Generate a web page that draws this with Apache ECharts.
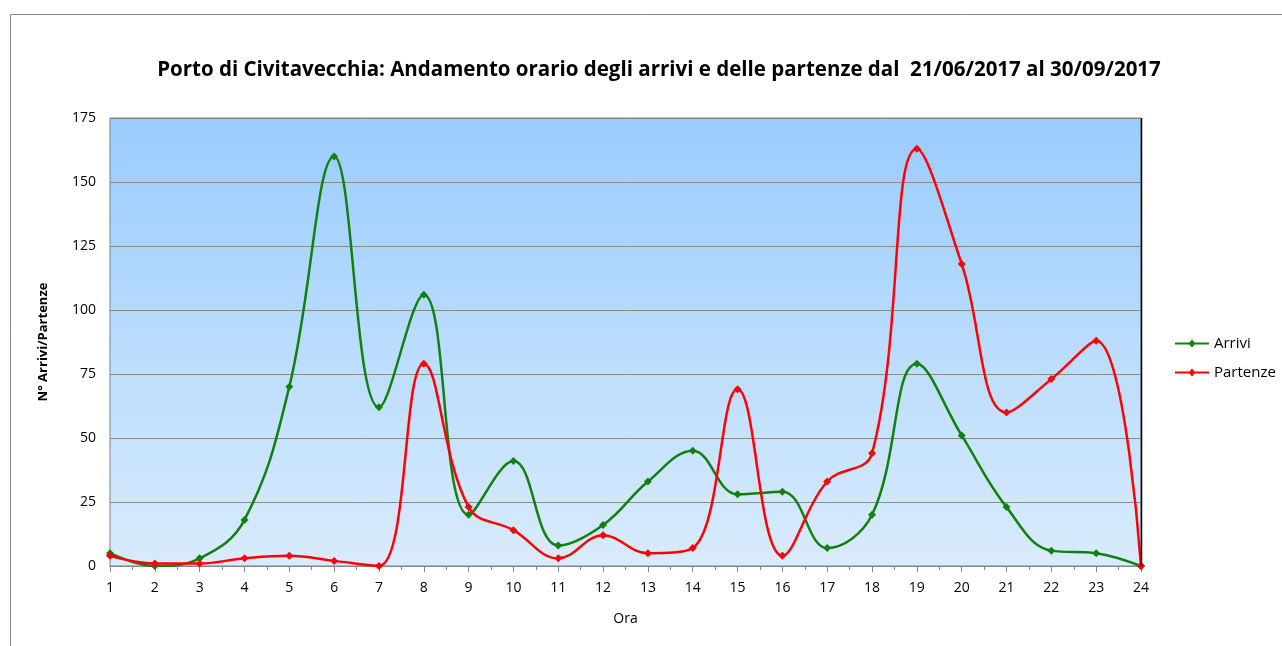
<!DOCTYPE html>
<html>
<head>
<meta charset="utf-8">
<script src="https://cdn.jsdelivr.net/npm/echarts@6/dist/echarts.min.js"></script>
<style>
  html, body { margin: 0; padding: 0; background: #fff; }
  #chart { width: 1282px; height: 646px; }
</style>
</head>
<body>
<div id="chart"></div>
<script>
// ore del giorno (asse x)
const ore = [1, 2, 3, 4, 5, 6, 7, 8, 9, 10, 11, 12, 13, 14, 15, 16, 17, 18, 19, 20, 21, 22, 23, 24];
// valori
const arrivi = [5, 0, 3, 18, 70, 160, 62, 106, 20, 41, 8, 16, 33, 45, 28, 29, 7, 20, 79, 51, 23, 6, 5, 0];
const partenze = [4, 1, 1, 3, 4, 2, 0, 79, 23, 14, 3, 12, 5, 7, 69, 4, 33, 44, 163, 118, 60, 73, 88, 0];
const yTicks = [0, 25, 50, 75, 100, 125, 150, 175];

const font = 'Open Sans';
const chart = echarts.init(document.getElementById('chart'));

// icona legenda: linea con rombo
const iconaLegenda = 'path://M0,4 L34,4 L34,6 L0,6 Z M17,1 L20.5,5 L17,9 L13.5,5 Z';

function serie(name, values, color) {
  return {
    name: name,
    type: 'line',
    data: ore.map((h, i) => [h, values[i]]),
    smooth: 0.4,
    symbol: 'diamond',
    symbolSize: 8,
    lineStyle: { color: color, width: 2.5 },
    itemStyle: { color: color },
    clip: true
  };
}

chart.setOption({
  animation: false,
  title: {
    text: 'Porto di Civitavecchia: Andamento orario degli arrivi e delle partenze dal  21/06/2017 al 30/09/2017',
    left: 654,
    textAlign: 'center',
    top: 55,
    textStyle: { fontFamily: font, fontWeight: 'bold', fontSize: 20.5, color: '#000' }
  },
  graphic: [{
    type: 'rect',
    shape: { x: 10.5, y: 14.5, width: 1300, height: 700 },
    style: { fill: 'none', stroke: '#888', lineWidth: 1 },
    silent: true
  }, {
    type: 'line',
    shape: { x1: 1141.5, y1: 118, x2: 1141.5, y2: 566 },
    style: { stroke: '#000', lineWidth: 1.5 },
    silent: true,
    z: 10
  }],
  legend: {
    orient: 'vertical',
    left: 1170,
    top: 331,
    itemGap: 14,
    itemWidth: 34,
    itemHeight: 10,
    textStyle: { fontFamily: font, fontSize: 15, color: '#000' },
    data: [
      { name: 'Arrivi', icon: iconaLegenda },
      { name: 'Partenze', icon: iconaLegenda }
    ]
  },
  grid: {
    left: 110, right: 141, top: 118, bottom: 80,
    show: true,
    borderColor: '#808080',
    borderWidth: 1,
    backgroundColor: {
      type: 'linear', x: 0, y: 0, x2: 0, y2: 1,
      colorStops: [
        { offset: 0, color: '#99ccff' },
        { offset: 1, color: '#d9ebfc' }
      ]
    }
  },
  xAxis: {
    type: 'value',
    min: ore[0],
    max: ore[ore.length - 1],
    interval: 1,
    name: 'Ora',
    nameLocation: 'middle',
    nameGap: 46,
    nameTextStyle: { fontFamily: font, fontSize: 14, color: '#000' },
    axisLine: { show: true, onZero: false, lineStyle: { color: '#868686' } },
    axisTick: { show: true, length: 6, lineStyle: { color: '#868686' } },
    minorTick: { show: true, splitNumber: 2, length: 4, lineStyle: { color: '#868686' } },
    axisLabel: { fontFamily: font, fontSize: 14, color: '#000', margin: 15 },
    splitLine: { show: false }
  },
  yAxis: {
    type: 'value',
    min: yTicks[0],
    max: yTicks[yTicks.length - 1],
    interval: 25,
    name: 'N° Arrivi/Partenze',
    nameLocation: 'middle',
    nameGap: 60,
    nameTextStyle: { fontFamily: font, fontSize: 13, fontWeight: 'bold', color: '#000' },
    axisLine: { show: false },
    axisTick: { show: false },
    axisLabel: { fontFamily: font, fontSize: 14, color: '#000', margin: 14 },
    splitLine: { show: true, lineStyle: { color: '#8a8a8a', width: 1 } }
  },
  series: [
    serie('Arrivi', arrivi, '#118011'),
    serie('Partenze', partenze, '#ff0000')
  ]
});
</script>
</body>
</html>
